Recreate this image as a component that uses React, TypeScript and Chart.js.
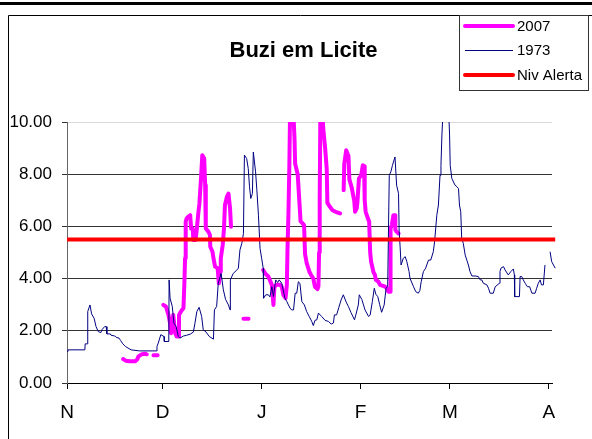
import React, { useEffect, useRef } from 'react';
import { Chart, registerables } from 'chart.js';

Chart.register(...registerables);

const titleText = 'Buzi em Licite';
const monthLabels = ['N', 'D', 'J', 'F', 'M', 'A'];
const monthTickDays = [0, 30, 61, 92, 120, 151];
const yTickValues = [0, 2, 4, 6, 8, 10];
const alertLevel = 5.5;
const alertDays = [0, 153];

// [day since 1 Nov, level (m)] ; null = gap
const series1973: [number, number | null][] = [
  [0, 1.21], [0.3, 1.27], [5.6, 1.27], [5.7, 1.5], [6.4, 1.5], [6.5, 2.74], [7.2, 2.99], [7.7, 2.65],
  [8.5, 2.48], [9.1, 2.16], [9.8, 1.97], [10.6, 1.93], [11.0, 2.05], [11.8, 2.16], [12.3, 2.16], [12.5, 1.88],
  [13.6, 1.88], [13.8, 1.83], [15.0, 1.8], [15.4, 1.75], [16.3, 1.72], [16.8, 1.63], [17.5, 1.5], [18.3, 1.4],
  [19.1, 1.34], [20.1, 1.27], [22.7, 1.23], [27.9, 1.23], [28.2, 1.4], [28.6, 1.53], [29.4, 1.85], [30.4, 1.78],
  [30.5, 1.59], [31.9, 1.59], [32.0, 3.95], [32.3, 3.25], [33.0, 2.93], [33.5, 2.29], [34.2, 2.16], [34.9, 1.78],
  [35.4, 1.72], [36.5, 1.8], [37.5, 1.83], [38.6, 1.87], [39.6, 1.95], [40.1, 2.29], [40.7, 2.74], [41.4, 2.9],
  [42.2, 2.55], [42.7, 2.04], [43.6, 1.95], [44.6, 1.78], [45.9, 1.68], [46.2, 2.8], [46.9, 2.93], [47.4, 3.82],
  [48.3, 4.2], [49.0, 3.57], [49.7, 3.2], [50.6, 2.99], [51.1, 2.8], [51.2, 3.95], [52.1, 4.2], [53.0, 4.3],
  [53.7, 4.4], [54.2, 5.1], [54.8, 5.35], [55.3, 5.73], [55.6, 8.73], [56.3, 8.6], [56.8, 8.22], [57.2, 7.52],
  [57.6, 7.07], [58.1, 7.26], [58.4, 8.85], [59.1, 8.09], [59.5, 7.4], [60.0, 6.43], [60.5, 5.16], [61.0, 4.78],
  [61.5, 4.4], [61.6, 3.25], [62.3, 3.38], [63.1, 3.38], [63.6, 3.3], [64.2, 3.69], [64.7, 3.31], [65.4, 3.95],
  [66.0, 3.85], [66.5, 3.95], [67.3, 3.82], [68.3, 3.25], [68.9, 3.12], [69.4, 2.99], [69.9, 2.87], [70.4, 2.8],
  [71.0, 2.8], [71.5, 3.44], [72.0, 3.44], [72.5, 3.88], [73.0, 3.82], [73.6, 3.12], [74.4, 2.99], [75.1, 2.74],
  [75.9, 2.55], [76.7, 2.36], [77.2, 2.2], [77.7, 2.4], [78.3, 2.42], [78.8, 2.68], [79.4, 2.6], [79.8, 2.55],
  [80.9, 2.4], [81.9, 2.36], [82.8, 2.26], [83.5, 2.3], [83.8, 2.61], [84.5, 2.61], [85.2, 2.9], [85.9, 3.18],
  [86.6, 3.38], [87.5, 3.1], [88.2, 2.93], [89.0, 2.7], [90.1, 2.42], [90.5, 2.6], [91.3, 2.99], [91.6, 3.38],
  [92.4, 3.2], [93.4, 2.8], [94.5, 2.55], [95.0, 2.6], [95.7, 3.12], [96.3, 3.63], [96.8, 3.4], [97.4, 3.31],
  [98.0, 3.0], [98.6, 2.71], [99.4, 2.99], [100.0, 3.63], [100.5, 3.7], [101.0, 7.96], [101.5, 8.09], [102.0, 8.34],
  [102.8, 8.66], [103.3, 7.58], [103.9, 7.26], [104.1, 5.8], [104.4, 5.22], [104.7, 4.52], [105.4, 4.78], [106.0, 4.84],
  [106.5, 4.65], [107.2, 4.27], [107.5, 4.01], [108.6, 3.69], [109.3, 3.5], [110.1, 3.44], [110.6, 3.55], [111.0, 3.88],
  [111.7, 4.27], [112.4, 4.4], [113.3, 4.71], [114.0, 4.71], [114.8, 5.03], [115.2, 5.41], [115.9, 6.43], [116.4, 6.82],
  [116.9, 7.96], [117.2, 8.34], [117.5, 9.5], [118.0, 10.8], [119.5, 10.8], [119.9, 9.5], [120.1, 8.34], [120.6, 7.84],
  [121.6, 7.58], [122.2, 7.52], [122.7, 7.45], [123.0, 6.82], [123.4, 6.56], [123.7, 5.54], [124.2, 5.35], [124.8, 4.9],
  [125.3, 4.71], [125.8, 4.52], [126.3, 4.27], [126.9, 4.1], [127.9, 4.1], [128.9, 4.08], [129.5, 3.95], [130.0, 3.95],
  [130.5, 3.82], [131.6, 3.76], [132.1, 3.63], [132.6, 3.44], [133.6, 3.44], [134.2, 3.69], [135.5, 3.82], [135.7, 4.27],
  [136.0, 4.4], [136.8, 4.46], [137.3, 4.33], [138.3, 4.14], [139.1, 4.27], [139.9, 4.37], [140.2, 4.14], [140.3, 3.31],
  [141.8, 3.31], [142.0, 4.08], [142.5, 4.08], [143.0, 3.95], [143.6, 3.82], [144.3, 3.69], [145.0, 3.69], [145.7, 3.44],
  [146.7, 3.44], [147.2, 3.63], [147.7, 3.82], [148.3, 3.95], [148.7, 3.76], [149.3, 3.76], [149.8, 4.52], [150.4, null],
  [151.4, 5.03], [151.9, 4.65], [153.0, 4.4],
];

const series2007: [number, number | null][] = [
  [17.6, 0.92], [18.5, 0.85], [19.7, 0.83], [21.3, 0.83], [22.0, 0.9], [22.4, 1.02], [22.9, 1.06], [23.5, 1.1],
  [24.5, 1.12], [25.0, 1.1], [26.0, null], [27.1, 1.06], [28.4, 1.06], [29.3, null],
  [30.2, 2.99], [31.0, 2.93], [31.8, 2.61], [32.3, 2.29], [32.6, 1.91], [33.3, 2.61], [33.9, 1.91], [34.4, 1.78],
  [35.0, 1.78], [35.1, 2.61], [35.7, 2.74], [36.5, 2.87], [36.8, 3.88], [37.0, 4.78], [37.2, 6.18], [37.5, 6.31],
  [38.0, 6.37], [38.6, 6.43], [38.9, 5.92], [39.4, 5.92], [39.6, 5.48], [40.3, 5.48], [40.7, 5.92], [41.2, 6.56],
  [41.5, 6.88], [42.0, 7.84], [42.4, 8.73], [43.0, 8.6], [43.3, 7.58], [43.5, 5.92], [44.3, 5.8], [44.8, 5.67],
  [44.9, 5.22], [45.6, 5.03], [45.9, 4.78], [46.4, 4.46], [47.2, 4.4], [47.6, 3.82], [48.0, 4.27], [48.2, 4.78],
  [48.8, 5.29], [49.2, 5.92], [49.5, 6.82], [50.1, 7.13], [50.6, 7.26], [51.1, 6.69], [51.4, 5.99], [53.0, null],
  [55.3, 2.46], [56.9, 2.46], [58.0, null],
  [61.5, 4.33], [62.1, 4.2], [63.1, 4.08], [64.2, 3.76], [64.7, 2.99], [65.0, 3.69], [65.7, 3.76], [66.8, 3.76],
  [67.3, 3.69], [67.8, 3.38], [68.5, 3.25], [68.9, 3.76], [69.1, 5.1], [69.4, 6.5], [69.7, 8.4], [69.9, 10.3],
  [70.5, 10.5], [71.0, 10.2], [71.3, 9.37], [71.5, 8.4], [72.3, 8.0], [72.8, 7.0], [73.2, 6.2], [74.3, 6.05],
  [74.6, 4.95], [75.1, 4.6], [76.0, 4.25], [76.5, 4.14], [77.2, 4.0], [77.7, 3.69], [78.5, 3.6], [78.8, 3.7],
  [79.0, 5.0], [79.2, 7.0], [79.4, 10.3], [80.0, 10.5], [80.3, 9.75], [80.9, 9.0], [81.4, 8.2], [81.6, 6.9],
  [82.4, 6.75], [83.2, 6.62], [84.2, 6.56], [85.6, 6.5], [86.2, null],
  [86.7, 7.39], [86.9, 8.41], [87.5, 8.92], [88.2, 8.7], [88.5, 7.8], [89.2, 7.5], [90.0, 7.0], [90.3, 6.56],
  [90.8, 6.7], [91.0, 6.9], [91.5, 7.84], [92.2, 7.95], [92.7, 8.34], [93.1, 8.3], [93.3, 7.0], [93.6, 6.56],
  [94.3, 6.31], [94.7, 6.18], [95.0, 5.03], [95.3, 4.65], [96.0, 4.27], [96.5, 4.14], [96.8, 3.95], [97.6, 3.88],
  [98.1, 3.76], [99.7, 3.69], [100.2, 3.63], [100.7, 3.5], [101.3, 3.5], [101.4, 5.92], [101.8, 6.05], [102.3, 6.43],
  [102.8, 6.43], [102.9, 5.86], [103.3, 5.8], [103.9, 5.73],
];

const FONT = '"Liberation Sans", Arial, Helvetica, sans-serif';

const decorations = {
  id: 'decorations',
  afterDraw(chart: any) {
    const ctx = chart.ctx as CanvasRenderingContext2D;
    const W = chart.width;
    const H = chart.height;
    ctx.save();
    // top rule
    ctx.fillStyle = '#000';
    ctx.fillRect(0, 2, W, 3);
    // chart frame
    ctx.strokeStyle = '#000';
    ctx.lineWidth = 1;
    ctx.beginPath();
    ctx.moveTo(8.5, H);
    ctx.lineTo(8.5, 15.5);
    ctx.lineTo(W, 15.5);
    ctx.stroke();
    // title
    ctx.fillStyle = '#000';
    ctx.font = 'bold 22px ' + FONT;
    ctx.textAlign = 'center';
    ctx.textBaseline = 'alphabetic';
    ctx.fillText(titleText, 303.5, 57);
    // legend
    ctx.strokeStyle = '#333';
    ctx.lineWidth = 1;
    ctx.strokeRect(459.5, 15.5, 129, 75);
    const ds = chart.data.datasets;
    const order = [0, 1, 2];
    const ys = [26, 50, 75];
    ctx.font = '15px ' + FONT;
    ctx.textAlign = 'left';
    ctx.textBaseline = 'middle';
    order.forEach((idx, k) => {
      const d = ds[idx];
      ctx.beginPath();
      ctx.strokeStyle = d.borderColor;
      ctx.lineWidth = d.borderWidth;
      ctx.lineCap = d.borderWidth > 2 ? 'round' : 'butt';
      ctx.moveTo(465, ys[k] + (d.borderWidth > 2 ? 0 : 0.5));
      ctx.lineTo(513, ys[k] + (d.borderWidth > 2 ? 0 : 0.5));
      ctx.stroke();
      ctx.fillStyle = '#000';
      ctx.fillText(d.label, 517, ys[k] + 1);
    });
    ctx.restore();
  },
};

export default function App() {
  const ref = useRef<HTMLCanvasElement | null>(null);
  useEffect(() => {
    if (!ref.current) return;
    const toPts = (s: [number, number | null][]) => s.map(([x, y]) => ({ x, y }));
    const clip = { left: 0, top: 0, right: 4, bottom: 0 };
    const chart = new Chart(ref.current, {
      type: 'line',
      data: {
        datasets: [
          {
            label: '2007',
            data: toPts(series2007) as any,
            borderColor: '#ff00ff',
            borderWidth: 4,
            borderCapStyle: 'round',
            borderJoinStyle: 'round',
            pointRadius: 0,
            tension: 0,
            spanGaps: false,
            order: 3,
            clip: clip as any,
          },
          {
            label: '1973',
            data: toPts(series1973) as any,
            borderColor: '#000080',
            borderWidth: 1,
            pointRadius: 0,
            tension: 0,
            spanGaps: false,
            order: 2,
            clip: clip as any,
          },
          {
            label: 'Niv Alerta',
            data: alertDays.map((x) => ({ x, y: alertLevel })) as any,
            borderColor: '#ff0000',
            borderWidth: 4,
            pointRadius: 0,
            tension: 0,
            order: 1,
            clip: clip as any,
          },
        ],
      },
      options: {
        responsive: false,
        animation: false,
        events: [],
        layout: { padding: { left: 0, top: 122, right: 40, bottom: 0 } },
        plugins: {
          legend: { display: false },
          title: { display: false },
          tooltip: { enabled: false },
        },
        scales: {
          x: {
            type: 'linear',
            min: 0,
            max: 152,
            afterBuildTicks: (scale: any) => {
              scale.ticks = monthTickDays.map((v) => ({ value: v }));
            },
            afterFit: (scale: any) => {
              scale.height = 56;
            },
            ticks: {
              autoSkip: false,
              maxRotation: 0,
              padding: 12,
              color: '#000',
              font: { family: FONT, size: 19 },
              callback: (_v: any, i: number) => monthLabels[i],
            },
            grid: {
              drawOnChartArea: false,
              drawTicks: true,
              tickLength: 6,
              tickColor: '#000',
            },
            border: { display: true, color: '#000', width: 1 },
          },
          y: {
            type: 'linear',
            min: 0,
            max: 10,
            afterBuildTicks: (scale: any) => {
              scale.ticks = yTickValues.map((v) => ({ value: v }));
            },
            afterFit: (scale: any) => {
              scale.width = 67;
            },
            ticks: {
              padding: 10,
              color: '#000',
              font: { family: FONT, size: 17 },
              callback: (v: any) => Number(v).toFixed(2),
            },
            grid: {
              drawTicks: true,
              tickLength: 5,
              tickColor: '#333',
              color: (c: any) =>
                c.tick && c.tick.value === 10
                  ? '#d9d9d9'
                  : c.tick && c.tick.value === 0
                  ? 'rgba(0,0,0,0)'
                  : '#333',
            },
            border: { display: true, color: '#666', width: 1 },
          },
        },
      },
      plugins: [decorations],
    });
    return () => chart.destroy();
  }, []);
  return (
    <div style={{ position: 'absolute', left: 0, top: 0, width: 592, height: 439, background: '#fff' }}>
      <canvas ref={ref} width={592} height={439} style={{ display: 'block' }} />
    </div>
  );
}
